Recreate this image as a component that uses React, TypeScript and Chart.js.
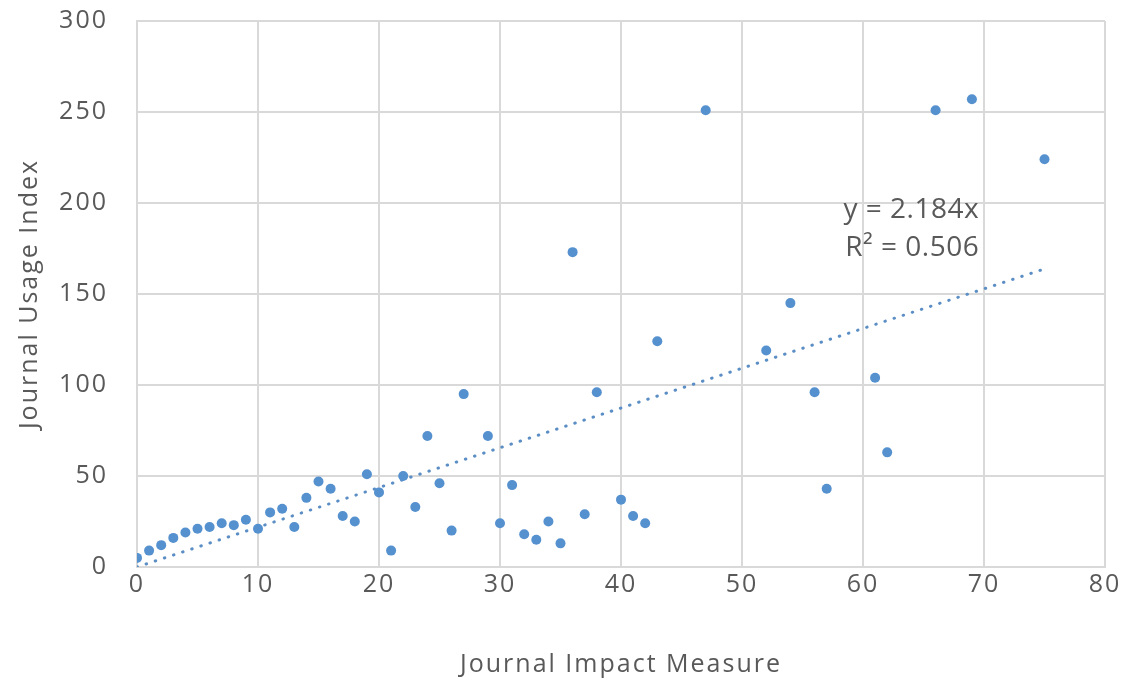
import React, { useEffect, useRef } from "react";
import { Chart, registerables } from "chart.js";

Chart.register(...registerables);

const impactMeasure = [0, 1, 2, 3, 4, 5, 6, 7, 8, 9, 10, 11, 12, 13, 14, 15, 16, 17, 18, 19, 20, 21, 22, 23, 24, 25, 26, 27, 29, 30, 31, 32, 33, 34, 35, 36, 37, 38, 40, 41, 42, 43, 47, 52, 54, 56, 57, 61, 62, 66, 69, 75];
const usageIndex = [5, 9, 12, 16, 19, 21, 22, 24, 23, 26, 21, 30, 32, 22, 38, 47, 43, 28, 25, 51, 41, 9, 50, 33, 72, 46, 20, 95, 72, 24, 45, 18, 15, 25, 13, 173, 29, 96, 37, 28, 24, 124, 251, 119, 145, 96, 43, 104, 63, 251, 257, 224];

const trendSlope = 2.184;
const trendRange = [0, 75];
const trendLabels = ["y = 2.184x", "R² = 0.506"];

const xTicks = [0, 10, 20, 30, 40, 50, 60, 70, 80];
const yTicks = [0, 50, 100, 150, 200, 250, 300];

const xTitle = "Journal Impact Measure";
const yTitle = "Journal Usage Index";

const TEXT = "#595959";
const GRID = "#d9d9d9";
const BLUE = "#5590cf";
const FONT = "'Open Sans', sans-serif";

export default function App() {
  const ref = useRef<HTMLCanvasElement | null>(null);

  useEffect(() => {
    if (!ref.current) return;
    const points = impactMeasure.map((x, i) => ({ x, y: usageIndex[i] }));
    const trend = trendRange.map((x) => ({ x, y: trendSlope * x }));

    const spacing = {
      id: "spacing",
      beforeDraw(chart: any) {
        chart.ctx.letterSpacing = "2px";
      },
    };

    const annotation = {
      id: "trendLabel",
      afterDatasetsDraw(chart: any) {
        const { ctx, scales } = chart;
        const xs = scales.x;
        const ys = scales.y;
        ctx.save();
        ctx.letterSpacing = "0.5px";
        ctx.fillStyle = TEXT;
        ctx.font = `28px ${FONT}`;
        ctx.textAlign = "right";
        ctx.textBaseline = "middle";
        const x = xs.getPixelForValue(69.6);
        ctx.fillText(trendLabels[0], x, ys.getPixelForValue(196));
        ctx.fillText(trendLabels[1], x, ys.getPixelForValue(175.5));
        ctx.restore();
      },
    };

    const chart = new Chart(ref.current, {
      type: "scatter",
      data: {
        datasets: [
          {
            type: "scatter",
            data: points,
            backgroundColor: BLUE,
            borderColor: BLUE,
            pointRadius: 5,
            pointBorderWidth: 0,
            order: 1,
          } as any,
          {
            type: "line",
            data: trend,
            borderColor: "#5b8ec4",
            borderWidth: 3,
            borderDash: [0.5, 9.1],
            borderCapStyle: "round",
            pointRadius: 0,
            fill: false,
            order: 2,
          } as any,
        ],
      },
      options: {
        animation: false,
        responsive: false,
        maintainAspectRatio: false,
        layout: { padding: { top: 21, right: 21, left: 0, bottom: 0 } },
        plugins: { legend: { display: false }, tooltip: { enabled: false } },
        scales: {
          x: {
            type: "linear",
            min: 0,
            max: 80,
            afterBuildTicks: (s: any) => {
              s.ticks = xTicks.map((v) => ({ value: v }));
            },
            afterFit: (s: any) => {
              s.height = 113;
              s.paddingLeft = 0;
              s.paddingRight = 0;
            },
            grid: { color: GRID, lineWidth: 2, drawTicks: false },
            border: { color: GRID, width: 2 },
            ticks: { color: TEXT, font: { family: FONT, size: 25 }, padding: 3, maxRotation: 0 },
            title: {
              display: true,
              text: xTitle,
              color: TEXT,
              font: { family: FONT, size: 25 },
              padding: { top: 3, bottom: 0 },
            },
          },
          y: {
            type: "linear",
            min: 0,
            max: 300,
            afterBuildTicks: (s: any) => {
              s.ticks = yTicks.map((v) => ({ value: v }));
            },
            afterFit: (s: any) => {
              s.width = 137;
              s.paddingTop = 0;
              s.paddingBottom = 0;
            },
            grid: { color: GRID, lineWidth: 2, drawTicks: false },
            border: { color: GRID, width: 2 },
            ticks: { color: TEXT, font: { family: FONT, size: 25 }, padding: 29 },
            title: {
              display: true,
              text: yTitle,
              color: TEXT,
              font: { family: FONT, size: 25 },
              padding: { top: 15, bottom: 0 },
            },
          },
        },
      },
      plugins: [spacing, annotation],
    } as any);
    return () => chart.destroy();
  }, []);

  return (
    <div style={{ position: "fixed", left: 0, top: 0, width: 1126, height: 680, background: "#fff" }}>
      <canvas ref={ref} width={1126} height={680} style={{ width: 1126, height: 680, display: "block" }} />
    </div>
  );
}
